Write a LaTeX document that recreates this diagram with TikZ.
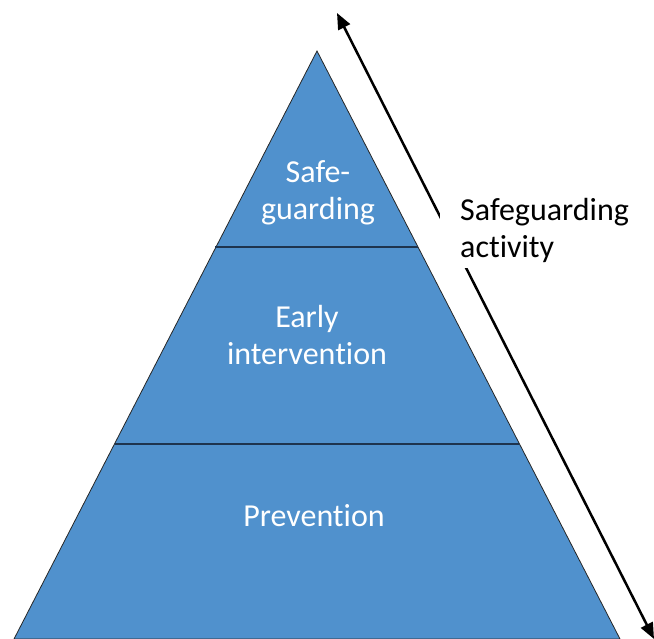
\documentclass[tikz,border=0pt]{standalone}
\usepackage{fontspec}
\setmainfont{Carlito}[Ligatures=NoCommon]
\usepackage{tikz}
\usetikzlibrary{arrows.meta}
\definecolor{pyrblue}{RGB}{80,145,205}
\definecolor{bandline}{RGB}{30,52,78}

\begin{document}
\begin{tikzpicture}[x=1pt,y=1pt,
	lbl/.style={text=white,align=center,font=\fontsize{32}{37}\selectfont},
	bigtip/.tip={Triangle[length=16pt,width=13pt]}]
			\useasboundingbox (0,0) rectangle (654,639);
			\draw[fill=pyrblue, draw=black!85, line width=0.8pt] (14,0) -- (317,588) -- (620,0) -- cycle;
			\draw[bandline, line width=2pt] (215,392) -- (418,392);
			\draw[bandline, line width=2pt] (115,195) -- (519,195);
			\node[lbl] (safe) at (318,446) {Safe-\\guarding};
			\node[lbl] (early) at (307,304) {Early\\intervention};
			\node[lbl] (prev) at (314,123) {Prevention};
			\coordinate (top) at (337,626);
			\coordinate (bottom) at (654,0);
			\draw[line width=2.5pt, arrows={bigtip-bigtip}] (top) -- (bottom);
			\node[fill=white, align=left, anchor=west, inner xsep=20pt, inner ysep=6pt, font=\fontsize{32}{37}\selectfont] (act) at (440,409) {Safeguarding\\activity};
		\end{tikzpicture}
\end{document}
